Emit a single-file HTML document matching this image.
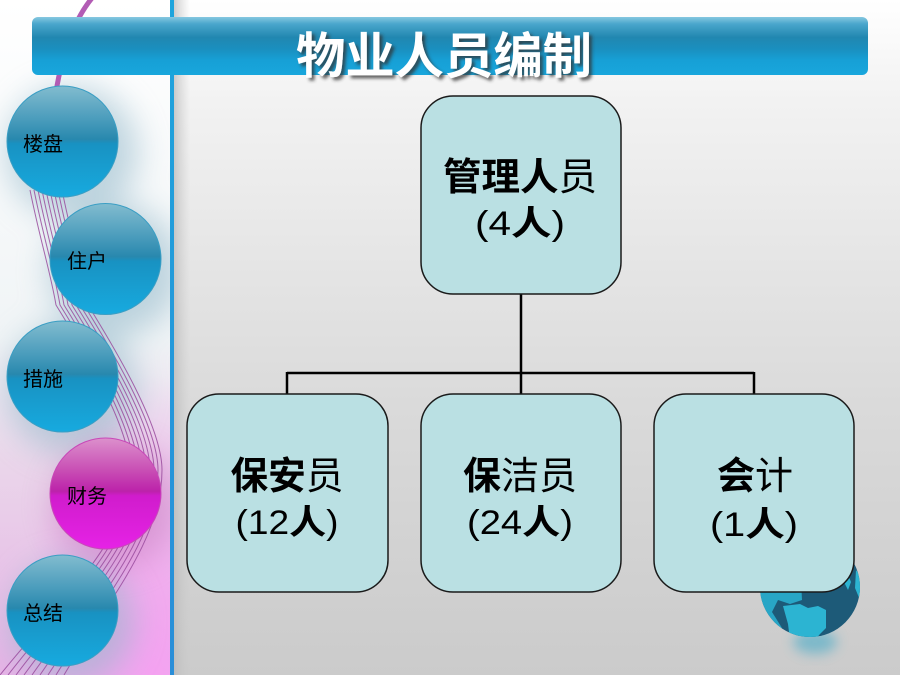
<!DOCTYPE html>
<html><head><meta charset="utf-8"><style>
html,body{margin:0;padding:0;width:900px;height:675px;overflow:hidden;background:#fff}
svg{display:block}
text{font-family:"Liberation Sans","Noto Sans CJK SC",sans-serif}
</style></head><body>
<svg width="900" height="675" viewBox="0 0 900 675" xmlns="http://www.w3.org/2000/svg">
<defs>
<linearGradient id="mainbg" x1="0" y1="0" x2="0" y2="1">
<stop offset="0" stop-color="#ffffff"/><stop offset="0.15" stop-color="#f2f2f2"/>
<stop offset="0.6" stop-color="#dadada"/><stop offset="1" stop-color="#cbcbcb"/>
</linearGradient>
<linearGradient id="leftbg" x1="0" y1="0" x2="0" y2="1">
<stop offset="0" stop-color="#ffffff"/><stop offset="0.5" stop-color="#f0f4f6"/>
<stop offset="0.68" stop-color="#ead6ea"/><stop offset="1" stop-color="#e6b2e6"/>
</linearGradient>
<radialGradient id="pinkglow" cx="0.9" cy="1" r="0.8">
<stop offset="0" stop-color="#f6a0f2" stop-opacity="0.9"/><stop offset="1" stop-color="#f6a0f2" stop-opacity="0"/>
</radialGradient>
<linearGradient id="bar" x1="0" y1="0" x2="0" y2="1">
<stop offset="0" stop-color="#86c8e0"/><stop offset="0.12" stop-color="#4aa6cc"/>
<stop offset="0.35" stop-color="#2187b0"/><stop offset="0.55" stop-color="#1a8fbf"/>
<stop offset="0.75" stop-color="#17a0d6"/><stop offset="1" stop-color="#18a6dc"/>
</linearGradient>
<linearGradient id="ball" x1="0" y1="0" x2="0" y2="1">
<stop offset="0" stop-color="#82bccf"/><stop offset="0.3" stop-color="#4a9cbc"/>
<stop offset="0.48" stop-color="#2888ae"/><stop offset="0.52" stop-color="#1892c2"/>
<stop offset="1" stop-color="#17aadf"/>
</linearGradient>
<linearGradient id="ballm" x1="0" y1="0" x2="0" y2="1">
<stop offset="0" stop-color="#dc90cc"/><stop offset="0.3" stop-color="#c84cb4"/>
<stop offset="0.48" stop-color="#bc22aa"/><stop offset="0.52" stop-color="#d01ccc"/>
<stop offset="1" stop-color="#e622e6"/>
</linearGradient>
<linearGradient id="vline" x1="0" y1="0" x2="0" y2="1">
<stop offset="0" stop-color="#1ea4dc"/><stop offset="1" stop-color="#2a8ed8"/>
</linearGradient>
<linearGradient id="vshadow" x1="0" y1="0" x2="1" y2="0">
<stop offset="0" stop-color="#b8b8b8" stop-opacity="0.7"/><stop offset="1" stop-color="#c8c8c8" stop-opacity="0"/>
</linearGradient>
<filter id="blur12" x="-80%" y="-80%" width="260%" height="260%"><feGaussianBlur stdDeviation="16"/></filter>
<filter id="blur6" x="-50%" y="-50%" width="200%" height="200%"><feGaussianBlur stdDeviation="6"/></filter>
<filter id="tshadow" x="-10%" y="-30%" width="120%" height="160%">
<feDropShadow dx="3" dy="3" stdDeviation="1.5" flood-color="#333" flood-opacity="0.75"/>
</filter>
<clipPath id="leftclip"><rect x="0" y="0" width="170" height="675"/></clipPath>
<clipPath id="globeclip"><circle cx="810" cy="587" r="50"/></clipPath>
</defs>

<!-- main background -->
<rect x="0" y="0" width="900" height="675" fill="url(#mainbg)"/>
<rect x="174" y="0" width="16" height="675" fill="url(#vshadow)"/>

<!-- left panel -->
<g clip-path="url(#leftclip)">
<rect x="0" y="0" width="170" height="675" fill="url(#leftbg)"/>
<rect x="0" y="300" width="170" height="375" fill="url(#pinkglow)"/>
<g filter="url(#blur12)" fill="#8fb6c8" opacity="0.55">
<circle cx="72" cy="152" r="66"/>
<circle cx="115" cy="270" r="66"/>
<circle cx="72" cy="388" r="66"/>
<circle cx="72" cy="622" r="62"/>
</g>
<g filter="url(#blur12)" fill="#b86ab0" opacity="0.4">
<circle cx="115" cy="505" r="62"/>
</g>
<!-- purple lines -->
<path d="M92,-2 Q66,30 56,92" stroke="#b25cb4" stroke-width="5" fill="none"/>
<g stroke="#9a4c9e" stroke-width="1" fill="none" opacity="0.85">
<path d="M50,190 C60,240 70,270 76,305 C110,360 150,430 150,470 C150,540 90,600 40,675"/>
<path d="M54,190 C64,240 74,270 80,305 C114,360 154,430 154,470 C154,540 96,600 48,675"/>
<path d="M58,190 C68,240 78,270 84,305 C118,360 158,430 158,470 C158,540 102,600 56,675"/>
<path d="M62,190 C72,240 82,270 88,305 C122,360 162,430 162,470 C162,540 108,600 64,675"/>
<path d="M46,190 C56,240 66,270 72,305 C106,360 146,430 146,470 C146,540 84,600 32,675"/>
<path d="M42,190 C52,240 62,270 68,305 C102,360 142,430 142,470 C142,540 78,600 24,675"/>
<path d="M38,190 C48,240 58,270 64,305 C98,360 138,430 138,470 C138,540 72,600 16,675"/>
<path d="M34,190 C44,240 54,270 60,305 C94,360 134,430 134,470 C134,540 66,600 8,675"/>
<path d="M30,190 C40,240 50,270 56,305 C90,360 130,430 130,470 C130,540 60,600 0,675"/>
</g>
</g>

<!-- divider line -->
<rect x="170" y="0" width="4" height="675" fill="url(#vline)"/>

<!-- circles -->
<g stroke="#3a9ec4" stroke-width="1">
<circle cx="62.5" cy="141.5" r="55.5" fill="url(#ball)"/>
<circle cx="105.5" cy="259" r="55.5" fill="url(#ball)"/>
<circle cx="62.5" cy="376.5" r="55.5" fill="url(#ball)"/>
<circle cx="105.5" cy="493.5" r="55.5" fill="url(#ballm)" stroke="#c848b8"/>
<circle cx="62.5" cy="610.5" r="55.5" fill="url(#ball)"/>
</g>
<g font-size="20" fill="#000" dominant-baseline="central">
<text x="23" y="145">楼盘</text>
<text x="67" y="262">住户</text>
<text x="23" y="380">措施</text>
<text x="67" y="497">财务</text>
<text x="23" y="614">总结</text>
</g>

<!-- title bar -->
<rect x="32" y="17" width="836" height="58" rx="6" fill="url(#bar)"/>
<text x="444" y="57" font-size="49" font-weight="bold" fill="#fff" text-anchor="middle" dominant-baseline="central" filter="url(#tshadow)" textLength="296" lengthAdjust="spacingAndGlyphs">物业人员编制</text>

<!-- globe -->
<ellipse cx="815" cy="642" rx="22" ry="12" fill="#3aa8c8" opacity="0.55" filter="url(#blur6)"/>
<circle cx="810" cy="587" r="50" fill="#1d5a78"/>
<g clip-path="url(#globeclip)" fill="#2cb4d2">
<path d="M755,560 L800,560 L802,600 L790,604 L778,600 L772,612 L782,628 L770,640 L755,640 Z" fill="#28a6c6"/>
<path d="M783,606 L800,604 L808,608 L818,606 L826,610 L826,628 L820,634 L815,640 L790,640 L788,624 Z"/>
<path d="M846,570 L851,582 L848,590 L843,580 Z"/>
<path d="M856,570 L862,578 L860,600 L855,588 Z"/>
</g>

<!-- connectors -->
<g stroke="#000" stroke-width="2.5" fill="none">
<line x1="521" y1="294" x2="521" y2="394"/>
<line x1="287" y1="373" x2="754" y2="373"/>
<line x1="287" y1="372" x2="287" y2="394"/>
<line x1="754" y1="372" x2="754" y2="394"/>
</g>

<!-- boxes -->
<g fill="#bae0e3" stroke="#1a1a1a" stroke-width="1.5">
<rect x="421" y="96" width="200" height="198" rx="32"/>
<rect x="187" y="394" width="201" height="198" rx="32"/>
<rect x="421" y="394" width="200" height="198" rx="32"/>
<rect x="654" y="394" width="200" height="198" rx="32"/>
</g>

<g fill="#000" font-size="38" text-anchor="middle" dominant-baseline="central">
<text x="520" y="178" textLength="154" lengthAdjust="spacingAndGlyphs"><tspan font-weight="bold">管理人</tspan>员</text>
<text x="520" y="224" font-size="34" textLength="90" lengthAdjust="spacingAndGlyphs">(4<tspan font-weight="bold">人</tspan>)</text>

<text x="287" y="477" textLength="113" lengthAdjust="spacingAndGlyphs"><tspan font-weight="bold">保安</tspan>员</text>
<text x="287" y="523" font-size="34" textLength="103" lengthAdjust="spacingAndGlyphs">(12<tspan font-weight="bold">人</tspan>)</text>

<text x="520" y="477" textLength="114" lengthAdjust="spacingAndGlyphs"><tspan font-weight="bold">保</tspan>洁员</text>
<text x="520" y="523" font-size="34" textLength="106" lengthAdjust="spacingAndGlyphs">(24<tspan font-weight="bold">人</tspan>)</text>

<text x="755" y="477" textLength="76" lengthAdjust="spacingAndGlyphs"><tspan font-weight="bold">会</tspan>计</text>
<text x="754" y="525" font-size="34" textLength="88" lengthAdjust="spacingAndGlyphs">(1<tspan font-weight="bold">人</tspan>)</text>
</g>
</svg>
</body></html>
